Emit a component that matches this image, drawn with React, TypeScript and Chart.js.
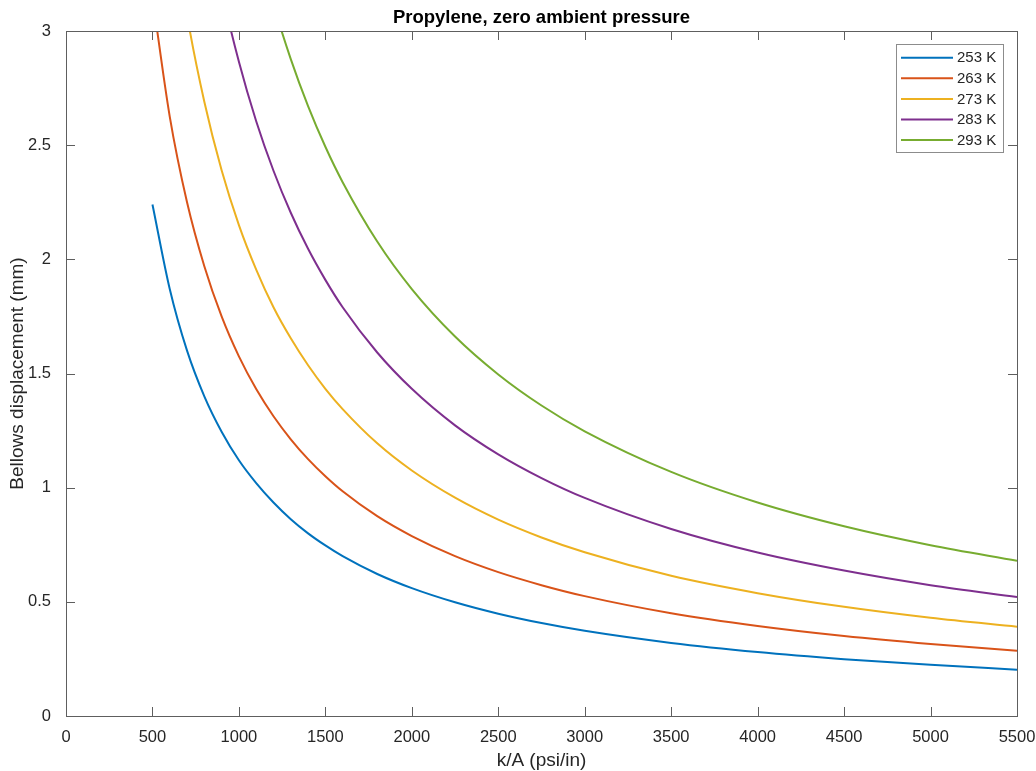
import React, { useEffect, useRef } from "react";
import { Chart, registerables } from "chart.js";

Chart.register(...registerables);

const chartTitle = "Propylene, zero ambient pressure";
const xAxisTitle = "k/A (psi/in)";
const yAxisTitle = "Bellows displacement (mm)";

const kA = [500, 600, 700, 800, 900, 1000, 1100, 1200, 1300, 1400, 1500, 1600, 1800, 2000, 2250, 2500, 2750, 3000, 3500, 4000, 4500, 5000, 5500];

const seriesLabels = ["253 K", "263 K", "273 K", "283 K", "293 K"];
const seriesColors = ["#0072BD", "#D95319", "#EDB120", "#7E2F8E", "#77AC30"];

const disp253 = [2.24, 1.87, 1.6, 1.4, 1.245, 1.12, 1.02, 0.935, 0.862, 0.8, 0.747, 0.7, 0.622, 0.56, 0.498, 0.448, 0.407, 0.373, 0.32, 0.28, 0.249, 0.224, 0.203];
const disp263 = [3.15, 2.625, 2.25, 1.97, 1.75, 1.575, 1.432, 1.313, 1.212, 1.125, 1.05, 0.984, 0.875, 0.788, 0.7, 0.63, 0.573, 0.525, 0.45, 0.394, 0.35, 0.315, 0.286];
const disp273 = [null, 3.58, 3.07, 2.69, 2.39, 2.15, 1.955, 1.79, 1.654, 1.536, 1.433, 1.344, 1.194, 1.075, 0.956, 0.86, 0.782, 0.717, 0.614, 0.538, 0.478, 0.43, 0.391];
const disp283 = [null, null, null, 3.58, 3.18, 2.865, 2.605, 2.388, 2.204, 2.046, 1.91, 1.79, 1.592, 1.433, 1.273, 1.146, 1.042, 0.955, 0.819, 0.716, 0.637, 0.573, 0.521];
const disp293 = [null, null, null, null, null, null, 3.4, 3.117, 2.877, 2.671, 2.493, 2.338, 2.078, 1.87, 1.662, 1.496, 1.36, 1.247, 1.069, 0.935, 0.831, 0.748, 0.68];

const seriesValues = [disp253, disp263, disp273, disp283, disp293];

const xTicks = [0, 500, 1000, 1500, 2000, 2500, 3000, 3500, 4000, 4500, 5000, 5500];
const yTicks = [0, 0.5, 1, 1.5, 2, 2.5, 3];

const FONT = "'Liberation Sans', Arial, Helvetica, sans-serif";
const TEXT = "#262626";
const AXIS = "#5e5e5e";

const decorPlugin = {
  id: "decor",
  afterDraw(chart: any) {
    const ctx = chart.ctx;
    const { left, right, top, bottom } = chart.chartArea;
    const xs = chart.scales.x;
    const ys = chart.scales.y;
    ctx.save();
    ctx.strokeStyle = AXIS;
    ctx.lineWidth = 1;
    ctx.strokeRect(Math.round(left) + 0.5, Math.round(top) + 0.5, Math.round(right - left), Math.round(bottom - top));
    const tl = 9;
    ctx.beginPath();
    xTicks.forEach((v) => {
      const px = Math.round(xs.getPixelForValue(v)) + 0.5;
      ctx.moveTo(px, bottom);
      ctx.lineTo(px, bottom - tl);
      ctx.moveTo(px, top);
      ctx.lineTo(px, top + tl);
    });
    yTicks.forEach((v) => {
      const py = Math.round(ys.getPixelForValue(v)) + 0.5;
      ctx.moveTo(left, py);
      ctx.lineTo(left + tl, py);
      ctx.moveTo(right, py);
      ctx.lineTo(right - tl, py);
    });
    ctx.stroke();

    ctx.fillStyle = "#000";
    ctx.font = `bold 18.5px ${FONT}`;
    ctx.textAlign = "center";
    ctx.textBaseline = "middle";
    ctx.fillText(chartTitle, (left + right) / 2, 18);

    ctx.fillStyle = TEXT;
    ctx.font = `19px ${FONT}`;
    ctx.fillText(xAxisTitle, (left + right) / 2, 761);
    ctx.save();
    ctx.translate(18, (top + bottom) / 2);
    ctx.rotate(-Math.PI / 2);
    ctx.fillText(yAxisTitle, 0, 0);
    ctx.restore();

    const bx = 896, by = 44, bw = 107, bh = 108;
    ctx.fillStyle = "#fff";
    ctx.fillRect(bx, by, bw, bh);
    ctx.strokeStyle = "#8c8c8c";
    ctx.lineWidth = 1;
    ctx.strokeRect(bx + 0.5, by + 0.5, bw, bh);
    ctx.font = `15px ${FONT}`;
    ctx.textAlign = "left";
    ctx.textBaseline = "middle";
    seriesLabels.forEach((lab, i) => {
      const cy = 57.7 + i * 20.6;
      ctx.strokeStyle = seriesColors[i];
      ctx.lineWidth = 2;
      ctx.beginPath();
      ctx.moveTo(901, cy);
      ctx.lineTo(953, cy);
      ctx.stroke();
      ctx.fillStyle = TEXT;
      ctx.fillText(lab, 957, cy + 0.5);
    });
    ctx.restore();
  },
};

export default function App() {
  const ref = useRef<HTMLCanvasElement | null>(null);
  useEffect(() => {
    document.body.style.margin = "0";
    const canvas = ref.current;
    if (!canvas) return;
    const datasets = seriesLabels.map((label, i) => ({
      label,
      data: kA.map((x, j) => ({ x, y: seriesValues[i][j] })),
      borderColor: seriesColors[i],
      backgroundColor: seriesColors[i],
      borderWidth: 2,
      pointRadius: 0,
      fill: false,
      cubicInterpolationMode: "monotone" as const,
      spanGaps: false,
    }));
    const chart = new Chart(canvas, {
      type: "line",
      data: { datasets },
      options: {
        animation: false,
        responsive: false,
        devicePixelRatio: 1,
        layout: { padding: { top: 31, right: 19, left: 0, bottom: 0 } },
        plugins: {
          legend: { display: false },
          title: { display: false },
          tooltip: { enabled: false },
        },
        scales: {
          x: {
            type: "linear",
            min: 0,
            max: 5500,
            grid: { display: false },
            border: { display: false },
            afterFit: (s: any) => {
              s.height = 55;
              s.paddingLeft = 0;
              s.paddingRight = 0;
            },
            afterBuildTicks: (s: any) => {
              s.ticks = xTicks.map((v) => ({ value: v }));
            },
            ticks: {
              autoSkip: false,
              maxRotation: 0,
              padding: 4,
              color: TEXT,
              font: { family: FONT, size: 16.5 },
              callback: (v: any) => String(v),
            },
          },
          y: {
            type: "linear",
            min: 0,
            max: 3,
            grid: { display: false },
            border: { display: false },
            afterFit: (s: any) => {
              s.width = 66;
              s.paddingTop = 0;
              s.paddingBottom = 0;
            },
            afterBuildTicks: (s: any) => {
              s.ticks = yTicks.map((v) => ({ value: v }));
            },
            ticks: {
              autoSkip: false,
              padding: 7,
              color: TEXT,
              font: { family: FONT, size: 16.5 },
              callback: (v: any) => String(v),
            },
          },
        },
      },
      plugins: [decorPlugin],
    });
    return () => chart.destroy();
  }, []);
  return (
    <div style={{ position: "relative", width: 1036, height: 771 }}>
      <canvas ref={ref} width={1036} height={771} style={{ position: "absolute", left: 0, top: 0, display: "block" }} />
    </div>
  );
}
